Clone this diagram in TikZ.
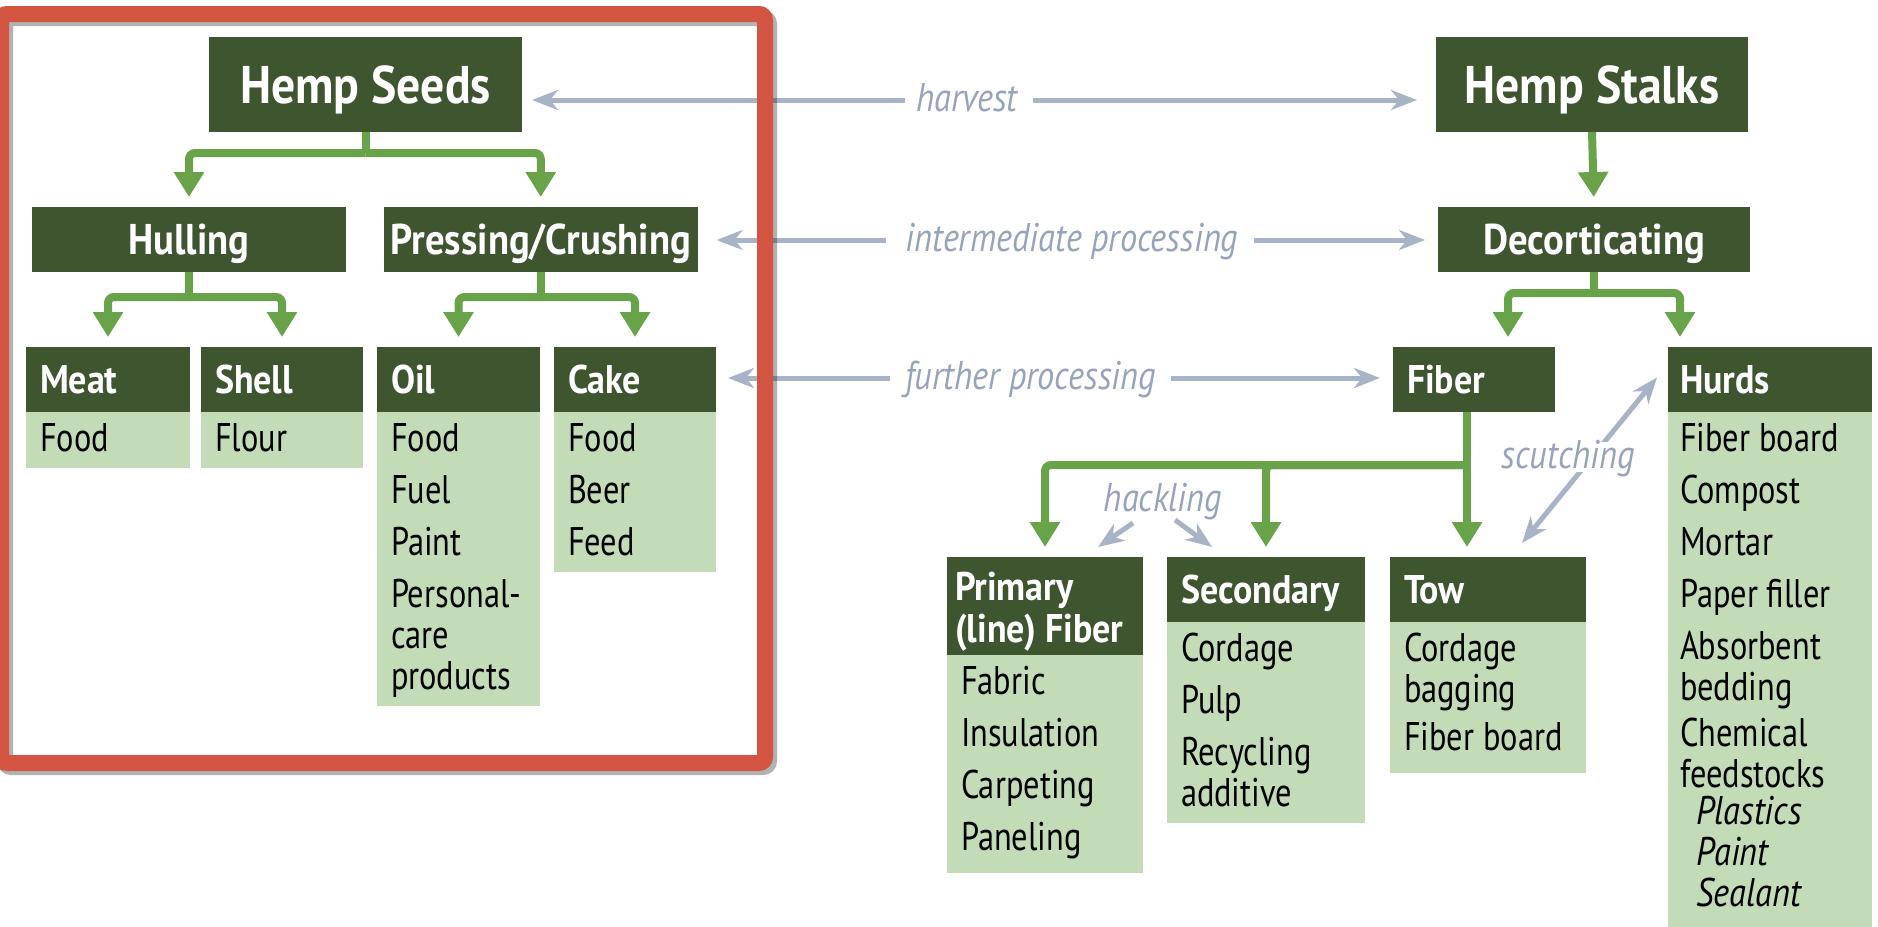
\documentclass[tikz,border=0pt]{standalone}
\usepackage{fontspec}
\setmainfont[FakeStretch=0.81,
  BoldFeatures={FakeStretch=0.9}, ItalicFeatures={FakeStretch=0.86}]{PT Sans}
\usetikzlibrary{calc,arrows.meta}

\definecolor{hempdark}{HTML}{3E5530}
\definecolor{hemplight}{HTML}{C4DBB7}
\definecolor{hempflow}{HTML}{68A34A}
\definecolor{procgrey}{HTML}{A9B3C7}
\definecolor{lblgrey}{HTML}{97A3BA}
\definecolor{framered}{HTML}{D35440}

\newcommand{\tightsp}{\spaceskip=0.22em plus 0.05em minus 0.03em\relax}
\newcommand{\firstln}{\tightsp\rule{0pt}{19.5pt}}
\newcommand{\lastln}{\rule[-8.5pt]{0pt}{8.5pt}}

\tikzset{
  hemp/.style={fill=hempdark, text=white, outer sep=0pt, inner ysep=0pt, anchor=north west},
  bighdr/.style={hemp, minimum width=#1, minimum height=47.5pt, text height=18.5pt, text depth=0pt,
    font=\bfseries\fontsize{26.5pt}{28pt}\selectfont},
  midhdr/.style={hemp, minimum width=#1, minimum height=32.5pt, text height=15pt, text depth=0pt,
    font=\bfseries\fontsize{21.5pt}{23pt}\selectfont},
  hdr/.style={hemp, text width=#1, align=left, inner xsep=7pt, minimum height=32.5pt,
    text height=14pt, text depth=0pt, font=\bfseries\fontsize{20pt}{21pt}\selectfont},
  items/.style={fill=hemplight, text width=#1, align=left, inner xsep=7pt, inner ysep=0pt,
    outer sep=0pt, anchor=north west, font=\fontsize{20pt}{20.5pt}\selectfont},
  flow/.style={draw=hempflow, line width=4pt, rounded corners=3pt,
    -{Triangle[length=12.5pt,width=14.5pt]}, shorten >=5pt},
  flowline/.style={draw=hempflow, line width=4pt},
  proc/.style={draw=procgrey, line width=2.5pt, -{Stealth[length=13pt,width=10pt,inset=4pt]}},
  procboth/.style={proc, {Stealth[length=13pt,width=10pt,inset=4pt]}-{Stealth[length=13pt,width=10pt,inset=4pt]}},
  proclbl/.style={text=lblgrey, inner sep=0pt, text height=11pt, text depth=0pt,
    font=\itshape\fontsize{20pt}{21pt}\selectfont},
}

\begin{document}
\begin{tikzpicture}[x=0.5pt,y=-0.5pt]
\useasboundingbox (0,0) rectangle (1878,926);

% seeds side
\node[bighdr=156.5pt] (seeds) at (209,37) {Hemp Seeds};
\node[midhdr=157pt] (hull) at (32,207) {Hulling};
\node[midhdr=156.5pt] (press) at (384,207) {Pressing/Crushing};
\node[hdr=68pt] (meat) at (26,347) {Meat};
\node[items=68pt] (meatb) at (meat.south west) {\firstln Food\lastln};
\node[hdr=67pt] (shell) at (201,347) {Shell};
\node[items=67pt] (shellb) at (shell.south west) {\firstln Flour\lastln};
\node[hdr=67.5pt] (oil) at (377,347) {Oil};
\node[items=67.5pt] (oilb) at (oil.south west)
  {\firstln Food\\[5.5pt]Fuel\\[5.5pt]Paint\\[5.5pt]Personal-\\care\\products\lastln};
\node[hdr=67pt] (cake) at (554,347) {Cake};
\node[items=67pt] (cakeb) at (cake.south west)
  {\firstln Food\\[5.5pt]Beer\\[5.5pt]Feed\lastln};

% stalks side
\node[bighdr=156pt] (stalks) at (1436,37) {Hemp Stalks};
\node[midhdr=156pt] (decort) at (1438,207) {Decorticating};
\node[hdr=67pt] (fiber) at (1393,347) {Fiber};
\node[hdr=90pt, inner xsep=6pt] (hurds) at (1668,347) {Hurds};
\node[items=90pt, inner xsep=6pt] (hurdsb) at (hurds.south west)
  {\firstln Fiber board\\[5.5pt]Compost\\[5.5pt]Mortar\\[5.5pt]Paper filler\\[5.5pt]Absorbent\\bedding\\[2.5pt]Chemical\\feedstocks\\[-2pt]
   \hspace*{8pt}\textit{Plastics}\\\hspace*{8pt}\textit{Paint}\\\hspace*{8pt}\textit{Sealant}\rule[-14pt]{0pt}{14pt}};
\node[hdr=90pt, inner xsep=4pt, text height=, text depth=, minimum height=49pt] (prim) at (947,557)
  {\tightsp\rule{0pt}{21.5pt}Primary\\\mbox{(line) Fiber}\rule[-6.5pt]{0pt}{6.5pt}};
\node[items=84pt] (primb) at (prim.south west)
  {\firstln Fabric\\[5.5pt]Insulation\\[5.5pt]Carpeting\\[5.5pt]Paneling\rule[-11.5pt]{0pt}{11.5pt}};
\node[hdr=85pt] (sec) at (1167,557) {Secondary};
\node[items=85pt] (secb) at (sec.south west)
  {\firstln Cordage\\[5.5pt]Pulp\\[5.5pt]Recycling\\additive\lastln};
\node[hdr=84pt] (tow) at (1390,557) {Tow};
\node[items=84pt] (towb) at (tow.south west)
  {\firstln Cordage\\bagging\\[3.5pt]Fiber board\rule[-11.5pt]{0pt}{11.5pt}};

% green flow
\draw[flowline] (seeds.south) -- ++(0,21) coordinate (sj);
\draw[flow] (sj) -| (hull.north);
\draw[flow] (sj) -| (press.north);
\draw[flowline] (hull.south) -- ++(0,25) coordinate (hj);
\draw[flow] (hj) -| (meat.north);
\draw[flow] (hj) -| (shell.north);
\draw[flowline] (press.south) -- ++(0,25) coordinate (pj);
\draw[flow] (pj) -| (oil.north);
\draw[flow] (pj) -| (cake.north);
\draw[flow] (stalks.south) -- (decort.north);
\draw[flowline] (decort.south) -- ++(0,21) coordinate (dj);
\draw[flow] (dj) -| ($(fiber.north east)+(-47,0)$);
\draw[flow] (dj) -| ($(hurds.north west)+(12,0)$);
\coordinate (ft) at ($(fiber.south)+(-7,0)$);
\path (ft) ++(0,53) coordinate (fj);
\draw[flow] (ft) -- (ft |- tow.north);
\draw[flow] (fj) -| (prim.north);
\draw[flow] (fj) -| (sec.north);

% grey processing arrows
\node[proclbl, anchor=west] (harvest) at (916,100) {harvest};
\draw[proc, shorten <=5.5pt, shorten >=5pt] (harvest.west) -- (harvest.west -| seeds.east);
\draw[proc, shorten <=7.5pt, shorten >=9.5pt] (harvest.east) -- (harvest.east -| stalks.west);
\node[proclbl, anchor=west] (inter) at (905,240) {intermediate processing};
\draw[proc, shorten <=9.5pt, shorten >=9.5pt] (inter.west) -- (inter.west -| press.east);
\draw[proc, shorten <=7.5pt, shorten >=6.5pt] (inter.east) -- (inter.east -| decort.west);
\node[proclbl, anchor=west] (further) at (905,378) {further processing};
\draw[proc, shorten <=7.5pt, shorten >=6pt] (further.west) -- (further.west -| cake.east);
\draw[proc, shorten <=7.5pt, shorten >=6.5pt] (further.east) -- (further.east -| fiber.west);

\node[proclbl] (hackl) at (1163,500) {hackling};
\coordinate (hk1) at ($(hackl)+(-30,23)$);
\coordinate (hk2) at ($(hackl)+(-65,47)$);
\coordinate (hk3) at ($(hackl)+(12,20)$);
\coordinate (hk4) at ($(hackl)+(49,47)$);
\draw[proc] (hk1) -- (hk2);
\draw[proc] (hk3) -- (hk4);

\coordinate (scA) at ($(tow.north east)+(-64,-14)$);
\coordinate (scB) at ($(hurds.west)+(-11,-2)$);
\draw[procboth] (scA) -- (scB);
\node[proclbl, fill=white, inner sep=2pt] (scutch) at ($(scA)!0.5!(scB)+(-21,-3)$) {scutching};

% red frame
\draw[black, opacity=0.3, line width=8pt, rounded corners=3pt] (5,18) rectangle (769,767);
\draw[framered, line width=8pt, rounded corners=3pt] (1,14) rectangle (765,763);
\end{tikzpicture}
\end{document}
